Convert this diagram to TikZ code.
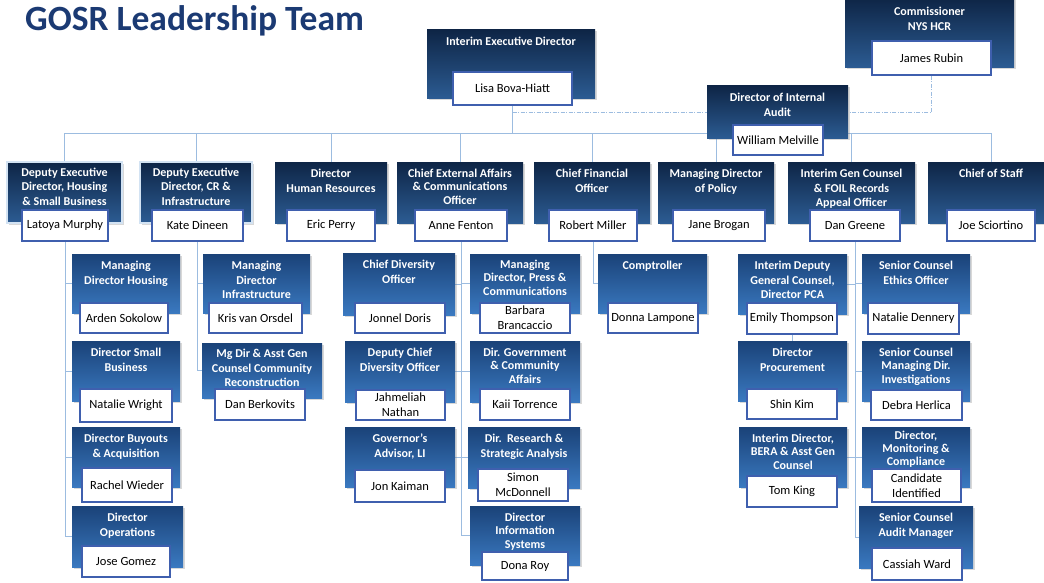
\documentclass[tikz,border=0pt]{standalone}
\usepackage{fontspec}
\setmainfont{Carlito}
\usetikzlibrary{fit,shadows}
\pgfdeclarelayer{bg}
\pgfsetlayers{bg,main}
\definecolor{topA}{HTML}{0E2546}
\definecolor{topB}{HTML}{2C5C93}
\definecolor{subA}{HTML}{1A4278}
\definecolor{subB}{HTML}{3A79C0}
\definecolor{nborder}{HTML}{3F5FAE}
\definecolor{connc}{HTML}{9CBCE0}
\definecolor{glowc}{HTML}{D3E3F3}
\definecolor{titleblue}{HTML}{1B3A73}
\tikzset{
  boxbase/.style={inner sep=0pt, drop shadow={opacity=0.3, shadow xshift=1.5pt, shadow yshift=-1.5pt}},
  topbox/.style={boxbase, top color=topA, bottom color=topB},
  subbox/.style={boxbase, top color=subA, bottom color=subB},
  glow/.style={draw=glowc, line width=2.5pt},
  ttext/.style={inner sep=0pt, align=center, text=white, font=\fontsize{12}{14.6}\selectfont\bfseries},
  tight/.style={font=\fontsize{12}{13.4}\selectfont\bfseries},
  namebox/.style={inner sep=0pt, fill=white, draw=nborder, line width=1.8pt},
  ntext/.style={inner sep=0pt, align=center, font=\fontsize{12.5}{14.8}\selectfont, text=black},
  conn/.style={draw=connc, line width=0.8pt},
  dd/.style={draw=connc, line width=0.8pt, dash pattern=on 4pt off 1.5pt on 1pt off 1.5pt},
}
% \card[title opts]{id}{style}{box tl}{box br}{name tl}{name br}{title}{person}
\newcommand\card[9][]{%
  \node[#3, fit={(#4) (#5)}] (#2) {};
  \node[ttext, anchor=north, #1] (#2t) at ([yshift=-7pt]#2.north) {#8};
  \node[namebox, fit={(#6) (#7)}] (#2N) {};
  \node[ntext] (#2L) at (#2N.center) {#9};
}
\begin{document}
\begin{tikzpicture}[x=1pt, y=-1pt]
\begin{pgfonlayer}{bg}
\fill[white] (0,0) rectangle (1044,583);
\end{pgfonlayer}
\useasboundingbox (0,0) rectangle (1044,583);

\node[anchor=base west, inner sep=0pt, text=titleblue, font=\fontsize{35.5}{40}\selectfont\bfseries] (ttl) at (25,31) {GOSR Leadership Team};

% top
\card{lisa}{topbox}{427,30}{595,99}{453,72}{572,105}{Interim Executive Director}{Lisa Bova-Hiatt}
\card[yshift=-2pt]{rubin}{topbox}{845,-2}{1014,68}{872,41}{991,75}{Commissioner\\NYS HCR}{James Rubin}
\card{audit}{topbox}{707,86}{848,139}{733,125}{823,155}{Director of Internal\\Audit}{William Melville}

% level 1
\card{ldm}{topbox,glow}{7,162}{122,223}{22,210}{108,241}{Deputy Executive\\Director, Housing\\\& Small Business}{Latoya Murphy}
\card{kd}{topbox,glow}{140,162}{252,223}{152,210}{243,241}{Deputy Executive\\Director, CR \&\\Infrastructure}{Kate Dineen}
\card{ep}{topbox}{275,162}{387,223}{287,210}{375,241}{Director\\Human Resources}{Eric Perry}
\card[tight]{af}{topbox}{397,162}{523,223}{415,210}{507,241}{Chief External Affairs\\\& Communications\\Officer}{Anne Fenton}
\card{rm}{topbox}{534,162}{650,223}{549,210}{637,241}{Chief Financial\\Officer}{Robert Miller}
\card{jb}{topbox}{658,162}{774,223}{673,210}{765,241}{Managing Director\\of Policy}{Jane Brogan}
\card{dg}{topbox}{788,162}{915,223}{810,210}{900,241}{Interim Gen Counsel\\\& FOIL Records\\Appeal Officer}{Dan Greene}
\card{js}{topbox}{928,162}{1054,223}{947,210}{1035,241}{Chief of Staff}{Joe Sciortino}

% level 2, column 1
\card{mdh}{subbox}{72,254}{180,313}{80,303}{168,333}{Managing\\Director Housing}{Arden Sokolow}
\card{dsb}{subbox}{72,341}{180,401}{80,389}{172,422}{Director Small\\Business}{Natalie Wright}
\card{dba}{subbox}{72,427}{180,487}{82,468}{172,502}{Director Buyouts\\\& Acquisition}{Rachel Wieder}
\card{dop}{subbox}{72,506}{183,567}{82,546}{170,577}{Director\\Operations}{Jose Gomez}
% column 2
\card{mdi}{subbox}{203,254}{310,313}{209,303}{302,333}{Managing\\Director\\Infrastructure}{Kris van Orsdel}
\card[yshift=1pt]{mgd}{subbox}{202,343}{322,398}{215,389}{305,420}{Mg Dir \& Asst Gen\\Counsel Community\\Reconstruction}{Dan Berkovits}
% column 3
\card{cdo}{subbox}{343,253}{455,315}{355,303}{445,333}{Chief Diversity\\Officer}{Jonnel Doris}
\card{dcd}{subbox}{345,341}{455,402}{356,390}{445,420}{Deputy Chief\\Diversity Officer}{Jahmeliah\\Nathan}
\card{gov}{subbox}{345,427}{455,487}{355,470}{445,502}{Governor’s\\Advisor, LI}{Jon Kaiman}
\card[tight,yshift=1pt]{mdp}{subbox}{470,254}{580,313}{480,303}{570,333}{Managing\\Director, Press \&\\Communications}{Barbara\\Brancaccio}
\card[tight]{dgc}{subbox}{470,341}{580,402}{480,389}{570,420}{Dir. Government\\\& Community\\Affairs}{Kaii Torrence}
\card{drs}{subbox}{468,427}{580,488}{478,469}{568,501}{Dir.\ \ Research \&\\Strategic Analysis}{Simon\\McDonnell}
\card[tight]{dis}{subbox}{470,506}{580,565}{482,552}{568,580}{Director\\Information\\Systems}{Dona Roy}
% column 4
\card{cmp}{subbox}{598,254}{707,313}{608,303}{698,333}{Comptroller}{Donna Lampone}
% column 5
\card{idg}{subbox}{738,254}{847,314}{747,303}{837,334}{Interim Deputy\\General Counsel,\\Director PCA}{Emily Thompson}
\card{dpr}{subbox}{738,341}{847,401}{747,389}{837,419}{Director\\Procurement}{Shin Kim}
\card[tight]{idb}{subbox}{739,427}{847,487}{747,476}{837,507}{Interim Director,\\BERA \& Asst Gen\\Counsel}{Tom King}
\card{sce}{subbox}{862,254}{970,313}{868,303}{959,334}{Senior Counsel\\Ethics Officer}{Natalie Dennery}
\card[tight]{scm}{subbox}{862,341}{970,401}{871,390}{962,420}{Senior Counsel\\Managing Dir.\\Investigations}{Debra Herlica}
\card[font=\fontsize{12}{12.8}\selectfont\bfseries,yshift=3pt]{dmc}{subbox}{862,427}{970,487}{872,469}{961,502}{Director,\\Monitoring \&\\Compliance}{Candidate\\Identified}
\card{sca}{subbox}{859,506}{973,568}{872,548}{962,580}{Senior Counsel\\Audit Manager}{Cassiah Ward}

\coordinate (bus) at (513,133);

\begin{pgfonlayer}{bg}
% bus and top connectors
\draw[conn] (lisaN.south) -- (lisaN.south |- bus);
\draw[conn] (ldm.north |- bus) -- (js.north |- bus);
\foreach \c in {ldm,kd,ep,af,rm,jb,dg,js} \draw[conn] (\c.north) -- (\c.north |- bus);
\draw[dd] (lisaN.south |- audit.west) -- (audit.west);
\draw[dd] (rubinN.south) |- (audit.east);
% column 1
\draw[conn] (ldmN.south) |- (dop.west);
\foreach \c in {mdh,dsb,dba} \draw[conn] (\c.west) -- (\c.west -| ldmN.south);
% column 2
\draw[conn] (kdN.south) |- (mgd.west);
\draw[conn] (mdi.west) -- (mdi.west -| kdN.south);
% column 3
\draw[conn] (afN.south) |- (dis.west);
\foreach \c in {cdo,dcd,gov} \draw[conn] (\c.east) -- (\c.east -| afN.south);
\foreach \c in {mdp,dgc,drs} \draw[conn] (\c.west) -- (\c.west -| afN.south);
% column 4
\draw[conn] (rmN.south) |- (cmp.west);
% column 5
\draw[conn] (dgN.south) |- (sca.west);
\foreach \c in {idg,idb} \draw[conn] (\c.east) -- (\c.east -| dgN.south);
\foreach \c in {sce,scm,dmc} \draw[conn] (\c.west) -- (\c.west -| dgN.south);
\draw[conn] (idgN.south) -- (idgN.south |- dpr.north);
\end{pgfonlayer}
\end{tikzpicture}
\end{document}
